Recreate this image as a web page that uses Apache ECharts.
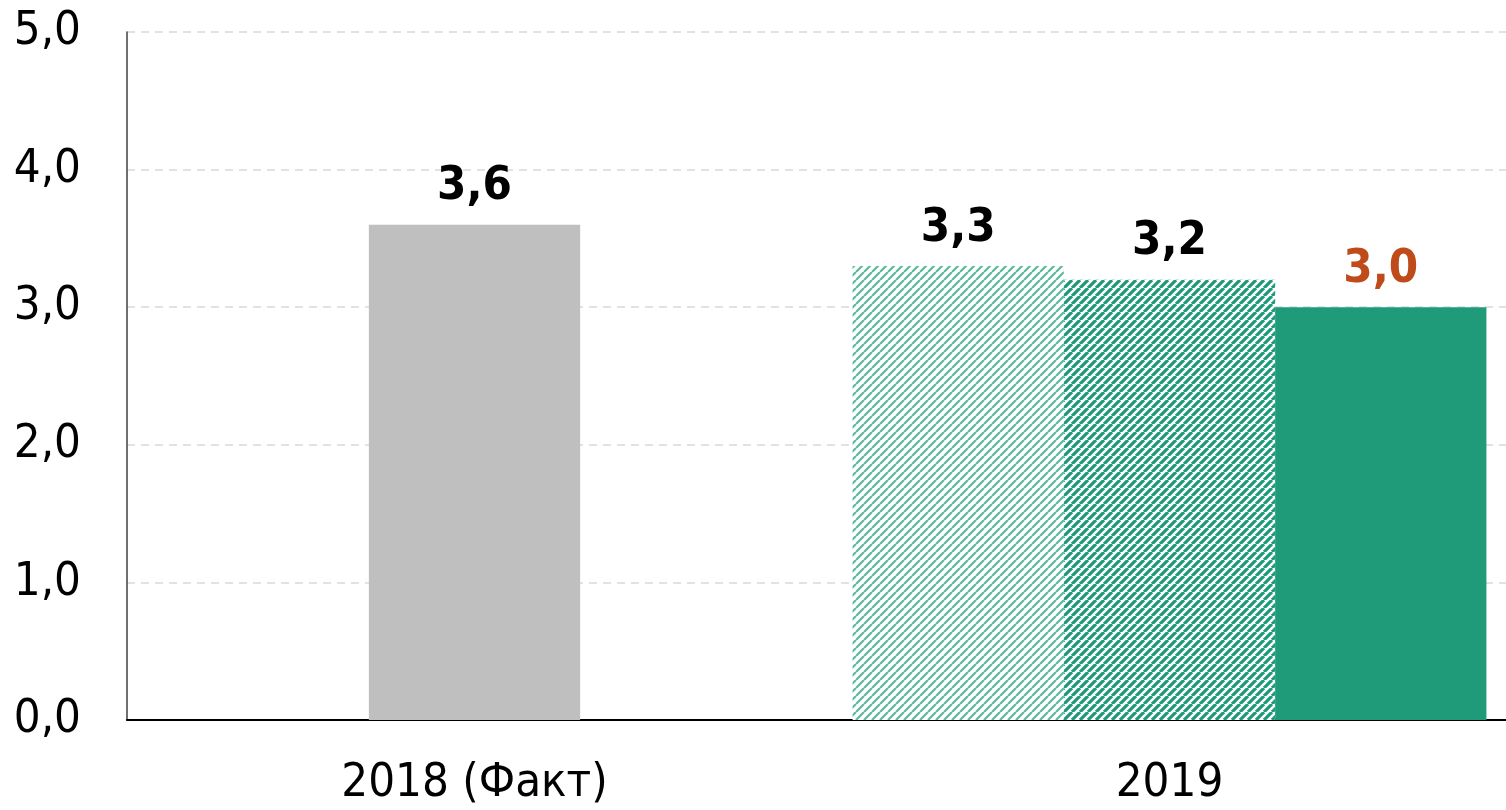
<!DOCTYPE html>
<html>
<head>
<meta charset="utf-8">
<script src="https://cdn.jsdelivr.net/npm/echarts@6/dist/echarts.min.js"></script>
<style>
  html, body { margin: 0; padding: 0; background: #ffffff; overflow: hidden; }
  #chart { width: 1506px; height: 810px; }
</style>
</head>
<body>
<div id="chart"></div>
<script>
const categories = ["2018 (Факт)", "2019"];
const factValues = [3.6, "-"];
const variantA = ["-", 3.3];
const variantB = ["-", 3.2];
const variantC = ["-", 3.0];

const GREEN = "#1f9b79";
const FONT = "'DejaVu Sans Condensed', 'DejaVu Sans', sans-serif";

// diagonal hatch tile, lines going "/"
function hatch(size, lineColor, lineWidth) {
  const c = document.createElement("canvas");
  c.width = size;
  c.height = size;
  const ctx = c.getContext("2d");
  ctx.fillStyle = "#ffffff";
  ctx.fillRect(0, 0, size, size);
  ctx.strokeStyle = lineColor;
  ctx.lineWidth = lineWidth;
  ctx.beginPath();
  [-size, 0, size].forEach((o) => {
    ctx.moveTo(o, size);
    ctx.lineTo(o + size, 0);
  });
  ctx.stroke();
  return { image: c, repeat: "repeat" };
}

const lightHatch = hatch(8, "#5db99d", 2.2);
const denseHatch = hatch(8, "#1f9b79", 3.2);

const valueLabel = (color) => ({
  show: true,
  position: "top",
  distance: 14,
  color,
  fontFamily: FONT,
  fontWeight: "bold",
  fontSize: 47,
  formatter: (p) => p.value.toFixed(1).replace(".", ","),
});

const chart = echarts.init(document.getElementById("chart"));
chart.setOption({
  animation: false,
  grid: {
    left: 127,
    width: 1390,
    top: 32,
    bottom: 90,
    containLabel: false,
    outerBoundsMode: "none",
  },
  xAxis: [
    {
      type: "category",
      data: categories,
      axisLine: { lineStyle: { color: "#000000", width: 2 } },
      axisTick: { show: false },
      axisLabel: { color: "#000000", fontFamily: FONT, fontSize: 47, margin: 40 },
    },
    {
      type: "category",
      data: categories,
      position: "bottom",
      show: false,
    },
  ],
  yAxis: {
    type: "value",
    min: 0,
    max: 5,
    interval: 1,
    axisLine: { show: true, lineStyle: { color: "#404040", width: 1.5 } },
    axisTick: { show: false },
    axisLabel: {
      color: "#000000",
      fontFamily: FONT,
      fontSize: 47,
      margin: 46,
      formatter: (v) => v.toFixed(1).replace(".", ","),
    },
    splitLine: {
      lineStyle: { color: "#d9d9d9", width: 1.5, type: [8, 6] },
    },
  },
  series: [
    {
      type: "bar",
      xAxisIndex: 0,
      barWidth: "30.4%",
      data: factValues,
      itemStyle: { color: "#bfbfbf" },
      label: valueLabel("#000000"),
    },
    {
      type: "bar",
      xAxisIndex: 1,
      barWidth: "30.4%",
      barGap: "0%",
      data: variantA,
      itemStyle: { color: lightHatch },
      label: valueLabel("#000000"),
    },
    {
      type: "bar",
      xAxisIndex: 1,
      barWidth: "30.4%",
      barGap: "0%",
      data: variantB,
      itemStyle: { color: denseHatch },
      label: valueLabel("#000000"),
    },
    {
      type: "bar",
      xAxisIndex: 1,
      barWidth: "30.4%",
      barGap: "0%",
      data: variantC,
      itemStyle: { color: GREEN },
      label: valueLabel("#bf4a1a"),
    },
  ],
});
</script>
</body>
</html>
